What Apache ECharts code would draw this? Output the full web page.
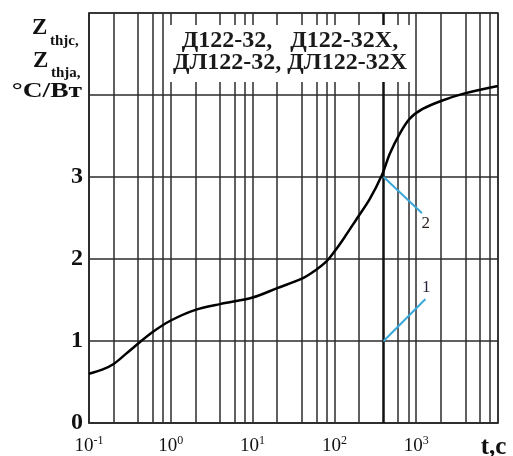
<!DOCTYPE html>
<html>
<head>
<meta charset="utf-8">
<script src="https://cdn.jsdelivr.net/npm/echarts@6/dist/echarts.min.js"></script>
<style>
  html, body { margin: 0; padding: 0; background: #fff; }
  #chart { width: 513px; height: 456px; }
</style>
</head>
<body>
<div id="chart"></div>
<script>
// кривая Zth(t)
const T_VALUES = [0.1, 0.145, 0.2, 0.28, 0.4, 0.6, 1, 2, 4, 10, 20, 40, 60, 80, 100, 132, 182, 270, 380, 474, 630, 830, 1200, 2050, 3900, 10000];
const Z_VALUES = [0.60, 0.65, 0.72, 0.84, 0.97, 1.11, 1.25, 1.38, 1.45, 1.53, 1.645, 1.76, 1.87, 1.97, 2.09, 2.26, 2.47, 2.73, 3.02, 3.28, 3.53, 3.71, 3.83, 3.93, 4.02, 4.11];
// выноски 1 и 2
const LEADER_1 = [[400, 1.0], [1290, 1.51]];
const LEADER_2 = [[400, 3.0], [1170, 2.56]];
// промежуточные вертикальные линии сетки (2, 4, 6, 8 в каждой декаде)
const X_MINOR = [0.2, 0.4, 0.6, 0.8, 2, 4, 6, 8, 20, 40, 60, 80, 200, 400, 600, 800, 2000, 4000, 6000, 8000];
const Y_LABELED = [0, 1, 2, 3];
const TITLE_LINES = ['Д122-32,   Д122-32Х,', 'ДЛ122-32, ДЛ122-32Х'];

const SERIF = "'Liberation Serif', 'DejaVu Serif', serif";
const GRID_COLOR = '#2b2b2b';
const BLUE = '#3aa6d8';

const chart = echarts.init(document.getElementById('chart'));

const option = {
  animation: false,
  grid: {
    left: 89, right: 15, top: 13, bottom: 33,
    outerBoundsMode: 'none',
    containLabel: false,
    show: true,
    borderColor: GRID_COLOR,
    borderWidth: 1.5
  },
  xAxis: {
    type: 'log',
    logBase: 10,
    min: 0.1,
    max: 10000,
    axisLine: { show: true, lineStyle: { color: GRID_COLOR, width: 1.5 } },
    axisTick: { show: false },
    splitLine: { show: true, lineStyle: { color: GRID_COLOR, width: 1.5 } },
    axisLabel: {
      margin: 12,
      formatter: function (v) {
        const e = Math.round(Math.log10(v));
        if (e === 4) return '{t|t,c}';
        return '{b|10}{s|' + (e < 0 ? '-' + (-e) : e) + '}';
      },
      rich: {
        b: { fontFamily: SERIF, fontSize: 19, color: '#111', verticalAlign: 'bottom' },
        s: { fontFamily: SERIF, fontSize: 12, color: '#111', verticalAlign: 'top', padding: [0, 0, 9, 0] },
        t: { fontFamily: SERIF, fontSize: 25, fontWeight: 'bold', color: '#111', padding: [0, 9, 0, 0] }
      }
    }
  },
  yAxis: {
    type: 'value',
    min: 0,
    max: 5,
    interval: 1,
    axisLine: { show: true, lineStyle: { color: GRID_COLOR, width: 1.5 } },
    axisTick: { show: false },
    splitLine: { show: true, lineStyle: { color: GRID_COLOR, width: 1.5 } },
    axisLabel: {
      margin: 6,
      fontFamily: SERIF,
      fontSize: 24,
      fontWeight: 'bold',
      color: '#111',
      formatter: function (v) { return Y_LABELED.indexOf(v) >= 0 ? String(v) : ''; }
    }
  },
  graphic: [
    // рамка с названием приборов
    { type: 'rect', z: 100, shape: { x: 170, y: 25, width: 243, height: 57 }, style: { fill: '#fff' } },
    { type: 'text', z: 101, x: 290, y: 52, style: { text: TITLE_LINES.join('\n'), align: 'center', verticalAlign: 'middle', font: 'bold 24px ' + SERIF, lineHeight: 22, fill: '#1a1a1a' } },
    // подпись оси Y
    { type: 'text', z: 101, x: 32, y: 28, style: { text: 'Z', verticalAlign: 'middle', font: 'bold 23px ' + SERIF, fill: '#111' } },
    { type: 'text', z: 101, x: 50, y: 41, style: { text: 'thjc,', verticalAlign: 'middle', font: 'bold 15px ' + SERIF, fill: '#111' } },
    { type: 'text', z: 101, x: 33, y: 61, style: { text: 'Z', verticalAlign: 'middle', font: 'bold 23px ' + SERIF, fill: '#111' } },
    { type: 'text', z: 101, x: 51, y: 73, style: { text: 'thja,', verticalAlign: 'middle', font: 'bold 15px ' + SERIF, fill: '#111' } },
    { type: 'text', z: 101, x: 82, y: 91, scaleX: 1.25, style: { text: '°C/Вт', align: 'right', verticalAlign: 'middle', font: 'bold 22px ' + SERIF, fill: '#111' } }
  ],
  series: [
    {
      type: 'line',
      data: X_MINOR.map(function (x) { return [x, 0]; }),
      symbol: 'none',
      lineStyle: { opacity: 0 },
      silent: true,
      z: 1,
      markLine: {
        silent: true,
        symbol: 'none',
        label: { show: false },
        lineStyle: { color: GRID_COLOR, width: 1.5, type: 'solid' },
        data: X_MINOR.map(function (x) {
          return x === 400 ? { xAxis: x, lineStyle: { width: 2.5, color: '#111' } } : { xAxis: x };
        })
      }
    },
    {
      type: 'line',
      data: T_VALUES.map(function (t, i) { return [t, Z_VALUES[i]]; }),
      smooth: 0.3,
      symbol: 'none',
      lineStyle: { color: '#000', width: 2.5 },
      z: 5
    },
    {
      type: 'line',
      data: [LEADER_1[0], { value: LEADER_1[1], label: { show: true, position: 'top', distance: 3, offset: [1, 0], formatter: '1' } }],
      symbol: 'circle',
      symbolSize: 1,
      showSymbol: true,
      itemStyle: { color: BLUE },
      lineStyle: { color: BLUE, width: 2 },
      label: { show: false, fontFamily: SERIF, fontSize: 17, color: '#2a1f3a' },
      z: 6
    },
    {
      type: 'line',
      data: [LEADER_2[0], { value: LEADER_2[1], label: { show: true, position: 'bottom', distance: 1, offset: [4, 0], formatter: '2' } }],
      symbol: 'circle',
      symbolSize: 1,
      showSymbol: true,
      itemStyle: { color: BLUE },
      lineStyle: { color: BLUE, width: 2 },
      label: { show: false, fontFamily: SERIF, fontSize: 17, color: '#2a1f1a' },
      z: 6
    }
  ]
};

chart.setOption(option);
</script>
</body>
</html>
